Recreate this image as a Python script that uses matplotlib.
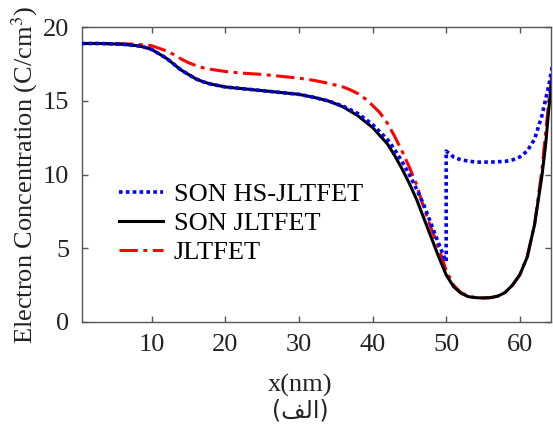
import matplotlib
matplotlib.use("Agg")
import matplotlib.pyplot as plt

# ============================================
# DATA
# ============================================
x_son = [0.5, 3, 6, 8, 9, 10, 11, 12, 13, 14, 15, 16, 17, 18, 20, 22, 25, 28,
         30, 32, 34, 36, 38, 40, 42, 43, 44, 45, 46, 47, 48, 49, 50, 51, 52,
         53, 54, 55, 56, 57, 58, 59, 60, 61, 62, 63, 63.5, 64, 64.5]
y_son = [18.9, 18.9, 18.85, 18.75, 18.65, 18.5, 18.2, 17.9, 17.5, 17.1, 16.8,
         16.5, 16.3, 16.15, 15.95, 15.85, 15.7, 15.55, 15.45, 15.25, 15.0,
         14.6, 14.0, 13.2, 12.1, 11.3, 10.4, 9.4, 8.3, 7.0, 5.7, 4.4, 3.2,
         2.4, 1.95, 1.72, 1.65, 1.63, 1.65, 1.75, 2.0, 2.5, 3.2, 4.4, 6.6,
         9.9, 12.0, 14.8, 17.0]

x_hs = [0.5, 3, 6, 8, 9, 10, 11, 12, 13, 14, 15, 16, 17, 18, 20, 22, 25, 28,
        30, 32, 34, 36, 38, 40, 42, 43, 44, 45, 46, 47, 48, 49, 49.8, 50, 50,
        50.5, 51, 52, 54, 56, 58, 59, 60, 61, 62, 63, 64, 64.5]
y_hs = [18.9, 18.9, 18.85, 18.75, 18.65, 18.5, 18.2, 17.9, 17.5, 17.1, 16.8,
        16.5, 16.3, 16.15, 15.95, 15.85, 15.7, 15.55, 15.45, 15.25, 15.0,
        14.65, 14.15, 13.4, 12.4, 11.7, 10.9, 10.0, 9.0, 7.9, 6.6, 5.3, 4.3,
        4.1, 11.6, 11.4, 11.2, 11.0, 10.85, 10.85, 10.9, 11.0, 11.2, 11.6,
        12.4, 14.0, 16.2, 17.6]

x_jl = [0.5, 3, 6, 8, 10, 12, 13, 14, 15, 16, 17, 18, 20, 22, 25, 28, 30, 32,
        34, 36, 37, 38, 39, 40, 41, 42, 43, 44, 45, 46, 47, 48, 49, 50, 51,
        52, 53, 54, 55, 56, 57, 58, 59, 60, 61, 62, 63, 64, 64.5]
y_jl = [18.9, 18.9, 18.88, 18.85, 18.75, 18.4, 18.15, 17.85, 17.6, 17.4,
        17.25, 17.15, 17.0, 16.9, 16.8, 16.65, 16.55, 16.4, 16.2, 15.95,
        15.75, 15.5, 15.15, 14.7, 14.2, 13.5, 12.6, 11.6, 10.5, 9.3, 7.7,
        6.3, 5.0, 3.5, 2.5, 2.0, 1.75, 1.66, 1.63, 1.65, 1.75, 2.0, 2.5, 3.2,
        4.4, 6.6, 10.3, 15.3, 17.4]

labels = ["SON HS-JLTFET", "SON JLTFET", "JLTFET"]
x_ticks = [10, 20, 30, 40, 50, 60]
y_ticks = [0, 5, 10, 15, 20]

# ============================================
# STYLE
# ============================================
plt.rcParams["font.family"] = ["Liberation Serif", "DejaVu Sans"]
plt.rcParams["mathtext.fontset"] = "stix"
AXIS_COLOR = "#555555"
TEXT_COLOR = "#222222"
FS = 19

fig = plt.figure(figsize=(5.53, 4.25), dpi=100)
ax = fig.add_axes([0.1477, 0.2424, 0.8482, 0.6934])

ax.plot(x_jl, y_jl, color="red", lw=2.2, dashes=[6, 1.8, 1.3, 1.8],
        label=labels[2], zorder=2)
ax.plot(x_son, y_son, color="black", lw=2.2, label=labels[1], zorder=3)
ax.plot(x_hs, y_hs, color="blue", lw=2.6, dashes=[1.0, 0.9],
        label=labels[0], zorder=4)

ax.set_xlim(0.5, 64.2)
ax.set_ylim(0, 20)
ax.set_xticks(x_ticks)
ax.set_yticks(y_ticks)
ax.tick_params(direction="in", length=4, width=1, colors=AXIS_COLOR,
               labelcolor=TEXT_COLOR, labelsize=FS, top=True, right=True)
ax.tick_params(axis="x", pad=9)
ax.tick_params(axis="y", pad=9)
for s in ax.spines.values():
    s.set_color(AXIS_COLOR)
    s.set_linewidth(1.0)

ax.set_ylabel("Electron Concentration (C/cm$^3$)", fontsize=FS,
              color=TEXT_COLOR, labelpad=2)

handles, lbls = ax.get_legend_handles_labels()
order = [2, 1, 0]
ax.legend([handles[i] for i in order], [lbls[i] for i in order],
          loc="center left", bbox_to_anchor=(0.028, 0.335), frameon=False,
          fontsize=FS, handlelength=1.7, handletextpad=0.4,
          labelspacing=0.2)

fig.text(0.5425, 0.092, "x(nm)", ha="center", va="center", fontsize=FS,
         color=TEXT_COLOR)
# Arabic caption, shaped by hand (presentation forms, visual order)
fig.text(0.5425, 0.033, "(\uFED2\uFEDF\uFE8D)", ha="center", va="center",
         fontsize=17, color=TEXT_COLOR, family=["DejaVu Sans"])

fig.savefig("out.png", dpi=100)
